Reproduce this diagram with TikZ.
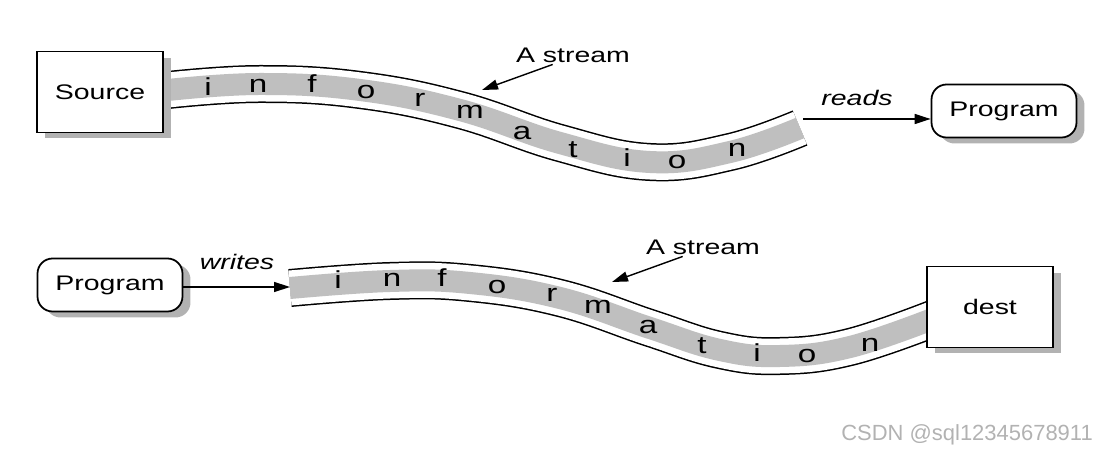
\documentclass[tikz,border=0pt]{standalone}
\usepackage{fontspec}
\setmainfont{Liberation Sans}[FakeStretch=1.35]
\newfontfamily\wmfont{Liberation Sans}
\usetikzlibrary{arrows.meta,
shadows}

\begin{document}
\begin{tikzpicture}[
x=0.02cm, y=-0.02cm,
>={Triangle[length=0.32cm,width=0.2cm]},
box/.style={
draw,
line width=1pt,
fill=white,
minimum width=2.52cm,
minimum height=1.62cm,
font=\fontsize{12}{14}\selectfont,
drop shadow={shadow xshift=0.16cm, shadow yshift=-0.12cm, fill=black!30, opacity=1}
},
prog/.style={
box,
rounded corners=0.3cm,
minimum width=2.9cm,
minimum height=1.06cm
},
band/.style={
draw=black!25,
line width=0.44cm,
preaction={draw=black, line width=0.76cm},
preaction={draw=white, line width=0.70cm}
},
streamchar/.style={font=\fontsize{14}{16}\selectfont, inner sep=0pt},
lbl/.style={font=\fontsize{12}{14}\selectfont, inner sep=1pt},
actlbl/.style={font=\fontsize{12}{14}\selectfont\itshape, inner sep=1pt},
arr/.style={->, line width=0.8pt}
]
\useasboundingbox (0,0) rectangle (1102,455);

% Streams
\path[band] plot[smooth, tension=0.7] coordinates
{(168,90) (260,84) (360,90) (460,110) (560,143) (650,162) (730,152) (800,128)};
\path[band] plot[smooth, tension=0.7] coordinates
{(290,288) (390,281) (470,283) (560,298) (650,328) (720,350) (780,356) (850,347) (935,318)};

\foreach \ch/\px/\py [count=\k] in {i/208/87, n/258/86, f/312/84, o/366/92, r/420/100,
m/470/112, a/522/133, t/573/150, i/627/158, o/677/162, n/737/150}
\node[streamchar] (ta\k) at (\px,\py) {\ch};

\foreach \ch/\px/\py [count=\k] in {i/338/280, n/392/280, f/442/278, o/497/287, r/552/295,
m/598/307, a/648/327, t/702/346, i/757/353, o/807/356, n/870/345}
\node[streamchar] (tb\k) at (\px,\py) {\ch};

% Top row
\node[box] (source) at (100,92) {Source};
\node[prog] (prog1) at (1004,111) {Program};

\node[lbl] (strm1) at (573,55) {A stream};
\coordinate (tip1) at (482,90);

\coordinate (rtail) at (803,119);
\node[actlbl] (rd) at (857,98) {reads};

% Bottom row
\node[prog] (prog2) at (110,285) {Program};
\node[box] (dest) at (990,307) {dest};

\node[lbl] (strm2) at (703,247) {A stream};
\coordinate (tip2) at (612,282);

\coordinate (whead) at (290,287);
\node[actlbl] (wr) at (237,262) {writes};

% Connections
\draw[arr] (strm1.205) -- (tip1);
\draw[arr] (rtail) -- (rtail -| prog1.west);

\draw[arr] (strm2.205) -- (tip2);
\draw[arr] (prog2.east |- whead) -- (whead);

\node[text=black!30, font=\wmfont\fontsize{12.5}{15}\selectfont, anchor=east]
(wm) at (1099,435) {CSDN @sql12345678911};

\end{tikzpicture}
\end{document}
